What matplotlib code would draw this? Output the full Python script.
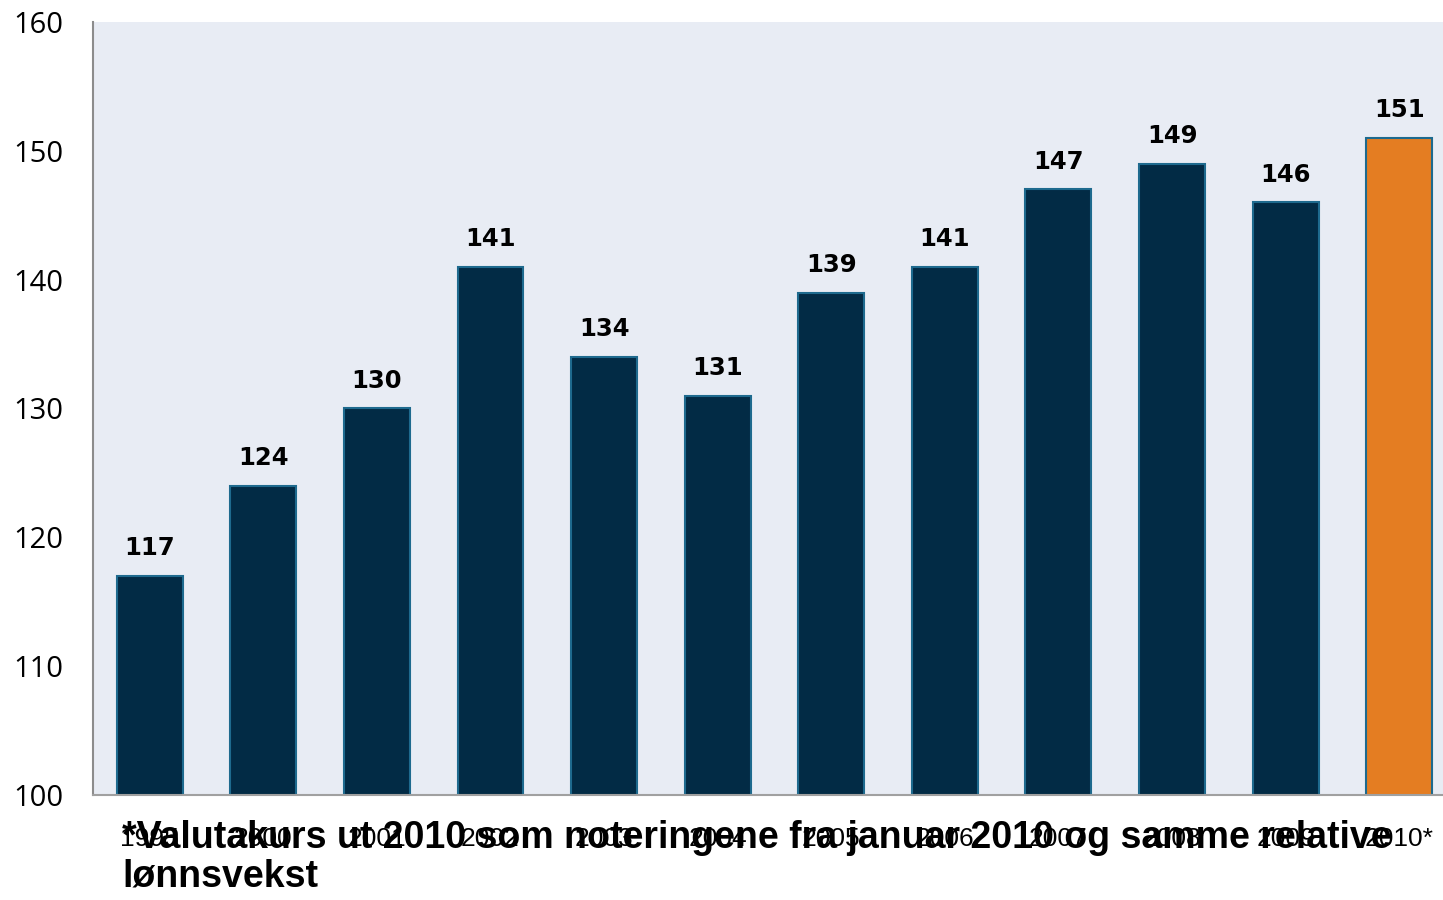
import numpy as np
import matplotlib.pyplot as plt

## chart data
years = ['1995', '2000', '2001', '2002', '2003', '2004', '2005',
         '2006', '2007', '2008', '2009', '2010*']
values = [117, 124, 130, 141, 134, 131, 139, 141, 147, 149, 146, 151]
footnote = '*Valutakurs ut 2010 som noteringene fra januar 2010 og samme relative\nlønnsvekst'

navy = '#022B45'
orange = '#E47D22'
bg = '#E8ECF4'

fig = plt.figure(figsize=(14.43, 9), dpi=100)
# plot area runs slightly past the right edge of the picture
ax = fig.add_axes([0.0644, 0.1167, 0.9446, 0.8589])
ax.set_facecolor(bg)

x = np.arange(len(years))
colors = [navy] * (len(years) - 1) + [orange]
bars = ax.bar(x, values, width=0.58, color=colors, edgecolor='#1E6A8E',
              linewidth=1.5, zorder=2)

# value labels above bars
for xi, v in zip(x, values):
	ax.text(xi, v + 1.2, str(v), ha='center', va='bottom',
		fontsize=17.5, fontweight='bold', family='DejaVu Sans')

ax.set_xlim(-0.5, len(years) - 0.5)
ax.set_ylim(100, 160)
ax.set_yticks(np.arange(100, 161, 10))
ax.set_xticks(x)
ax.set_xticklabels(years, family='Liberation Sans', fontsize=19)
for lab in ax.get_yticklabels():
	lab.set_family('Open Sans')
	lab.set_fontsize(21)
ax.tick_params(axis='x', length=0, pad=23)
ax.tick_params(axis='y', length=0, pad=21)

for side in ['top', 'right']:
	ax.spines[side].set_visible(False)
ax.spines['left'].set_color('#8C8C8C')
ax.spines['bottom'].set_color('#A0A0A0')
ax.spines['left'].set_linewidth(1.5)
ax.spines['bottom'].set_linewidth(1.5)

fig.text(122 / 1443, 1 - 820 / 900, footnote, ha='left', va='top',
	fontsize=27, fontweight='bold', family='Liberation Sans', linespacing=1.1)

fig.savefig('out.png', dpi=100)
